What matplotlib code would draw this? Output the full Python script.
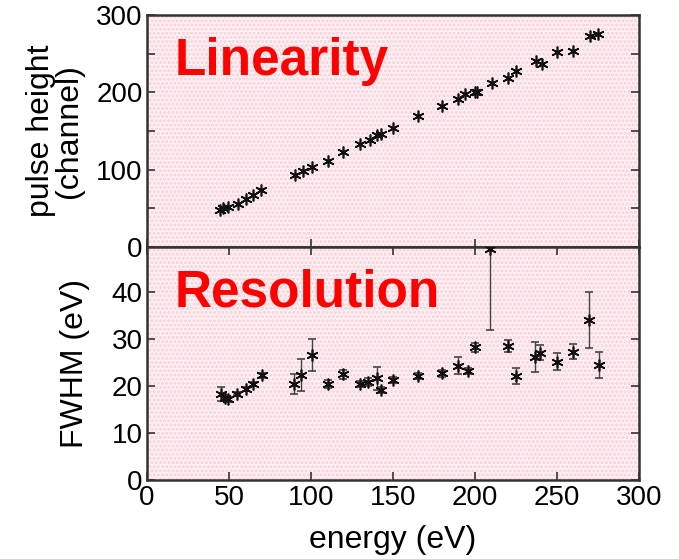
import matplotlib.pyplot as plt
import numpy as np

plt.rcParams['font.family'] = ['Liberation Sans', 'DejaVu Sans']
plt.rcParams['hatch.linewidth'] = 1.5

# linearity: energy (eV) vs pulse height (channel)
lin_energy = [44.5, 46.5, 49.6, 55.7, 60.4, 64.8, 69.3, 90.2, 94.9, 100.4,
              110.6, 119.7, 129.9, 136.0, 140.0, 142.5, 150.2, 165.0, 179.7,
              189.8, 193.9, 200.0, 201.4, 210.2, 220.3, 225.0, 237.2, 240.6,
              249.8, 260.0, 270.1, 275.2]
lin_height = [47.6, 50.0, 52.0, 55.7, 61.8, 67.0, 73.4, 92.7, 98.2, 103.4,
              111.0, 123.0, 133.9, 139.0, 144.6, 146.7, 154.0, 169.0, 182.8,
              192.0, 197.8, 200.0, 200.8, 212.8, 218.4, 228.2, 240.7, 236.8,
              251.9, 254.0, 272.9, 275.4]

# resolution: energy (eV) vs FWHM (eV) with error
res_energy = [45.0, 47.6, 49.6, 55.0, 60.4, 64.8, 69.9, 89.6, 94.2, 100.4,
              110.6, 119.7, 129.9, 134.9, 140.0, 142.5, 150.2, 165.0, 179.7,
              189.8, 196.0, 200.0, 209.1, 220.3, 225.0, 236.6, 239.6, 249.8,
              260.0, 269.7, 275.8]
res_fwhm = [18.3, 17.4, 17.2, 18.4, 19.4, 20.4, 22.3, 20.4, 22.3, 26.6,
            20.4, 22.5, 20.4, 20.9, 21.6, 19.1, 21.3, 22.1, 22.7,
            24.3, 23.2, 28.2, 49.1, 28.5, 22.1, 26.2, 27.1, 25.2,
            27.3, 34.0, 24.5]
res_err = [1.5, 0.6, 0.5, 0.4, 0.4, 0.4, 0.5, 2.2, 3.4, 3.4,
           0.8, 1.0, 0.6, 0.8, 2.5, 0.6, 0.6, 0.7, 0.8,
           1.8, 0.6, 1.0, 17.2, 1.2, 1.7, 3.2, 1.5, 1.8,
           1.6, 6.0, 2.7]

bg = '#fdf1f3'
spine_c = '#333333'

fig = plt.figure(figsize=(6.79, 5.59), dpi=100)
ax1 = fig.add_axes([0.2165, 0.558, 0.7245, 0.415])
ax2 = fig.add_axes([0.2165, 0.141, 0.7245, 0.417])

star = (6, 2, 0)

ax1.plot(lin_energy, lin_height, linestyle='none', marker=star, ms=8.5,
         mew=1.2, color='#111111', zorder=3)
ax1.set_xlim(0, 300)
ax1.set_ylim(0, 300)
ax1.set_yticks(np.arange(0, 301, 50))
ax1.set_yticklabels(['0', '', '100', '', '200', '', '300'])
ax1.tick_params(labelbottom=False)
ax1.set_ylabel('pulse height\n(channel)', fontsize=23, linespacing=0.9,
               labelpad=9)
ax1.text(17, 222, 'Linearity', color='red', fontsize=37, fontweight='bold',
         ha='left', va='baseline', zorder=4)

ax2.errorbar(res_energy, res_fwhm, yerr=res_err, linestyle='none',
             marker=star, ms=8.5, mew=1.2, color='#111111', ecolor='#444444',
             elinewidth=1.0, capsize=3, zorder=3)
ax2.set_xlim(0, 300)
ax2.set_ylim(0, 49.5)
ax2.set_xticks(np.arange(0, 301, 50))
ax2.set_yticks(np.arange(0, 41, 10))
ax2.set_xlabel('energy (eV)', fontsize=23, labelpad=10)
ax2.set_ylabel('FWHM (eV)', fontsize=23, labelpad=16)
ax2.text(17, 36.9, 'Resolution', color='red', fontsize=37, fontweight='bold',
         ha='left', va='baseline', zorder=4)

for ax in (ax1, ax2):
    ax.set_facecolor(bg)
    ax.add_patch(plt.Rectangle((0, 0), 1, 1, transform=ax.transAxes,
                               facecolor='none', edgecolor='#f8d0d8',
                               hatch='....', linewidth=0, zorder=0))
    ax.tick_params(direction='in', length=6, width=1.2, labelsize=20,
                   top=True, right=True, colors=spine_c, labelcolor='black')
    for s in ax.spines.values():
        s.set_linewidth(1.8)
        s.set_color(spine_c)

ax1.tick_params(axis='x', top=False)
ax1.tick_params(axis='y', pad=3)
ax2.tick_params(axis='y', pad=3)

fig.savefig('out.png', dpi=100, facecolor='white')
